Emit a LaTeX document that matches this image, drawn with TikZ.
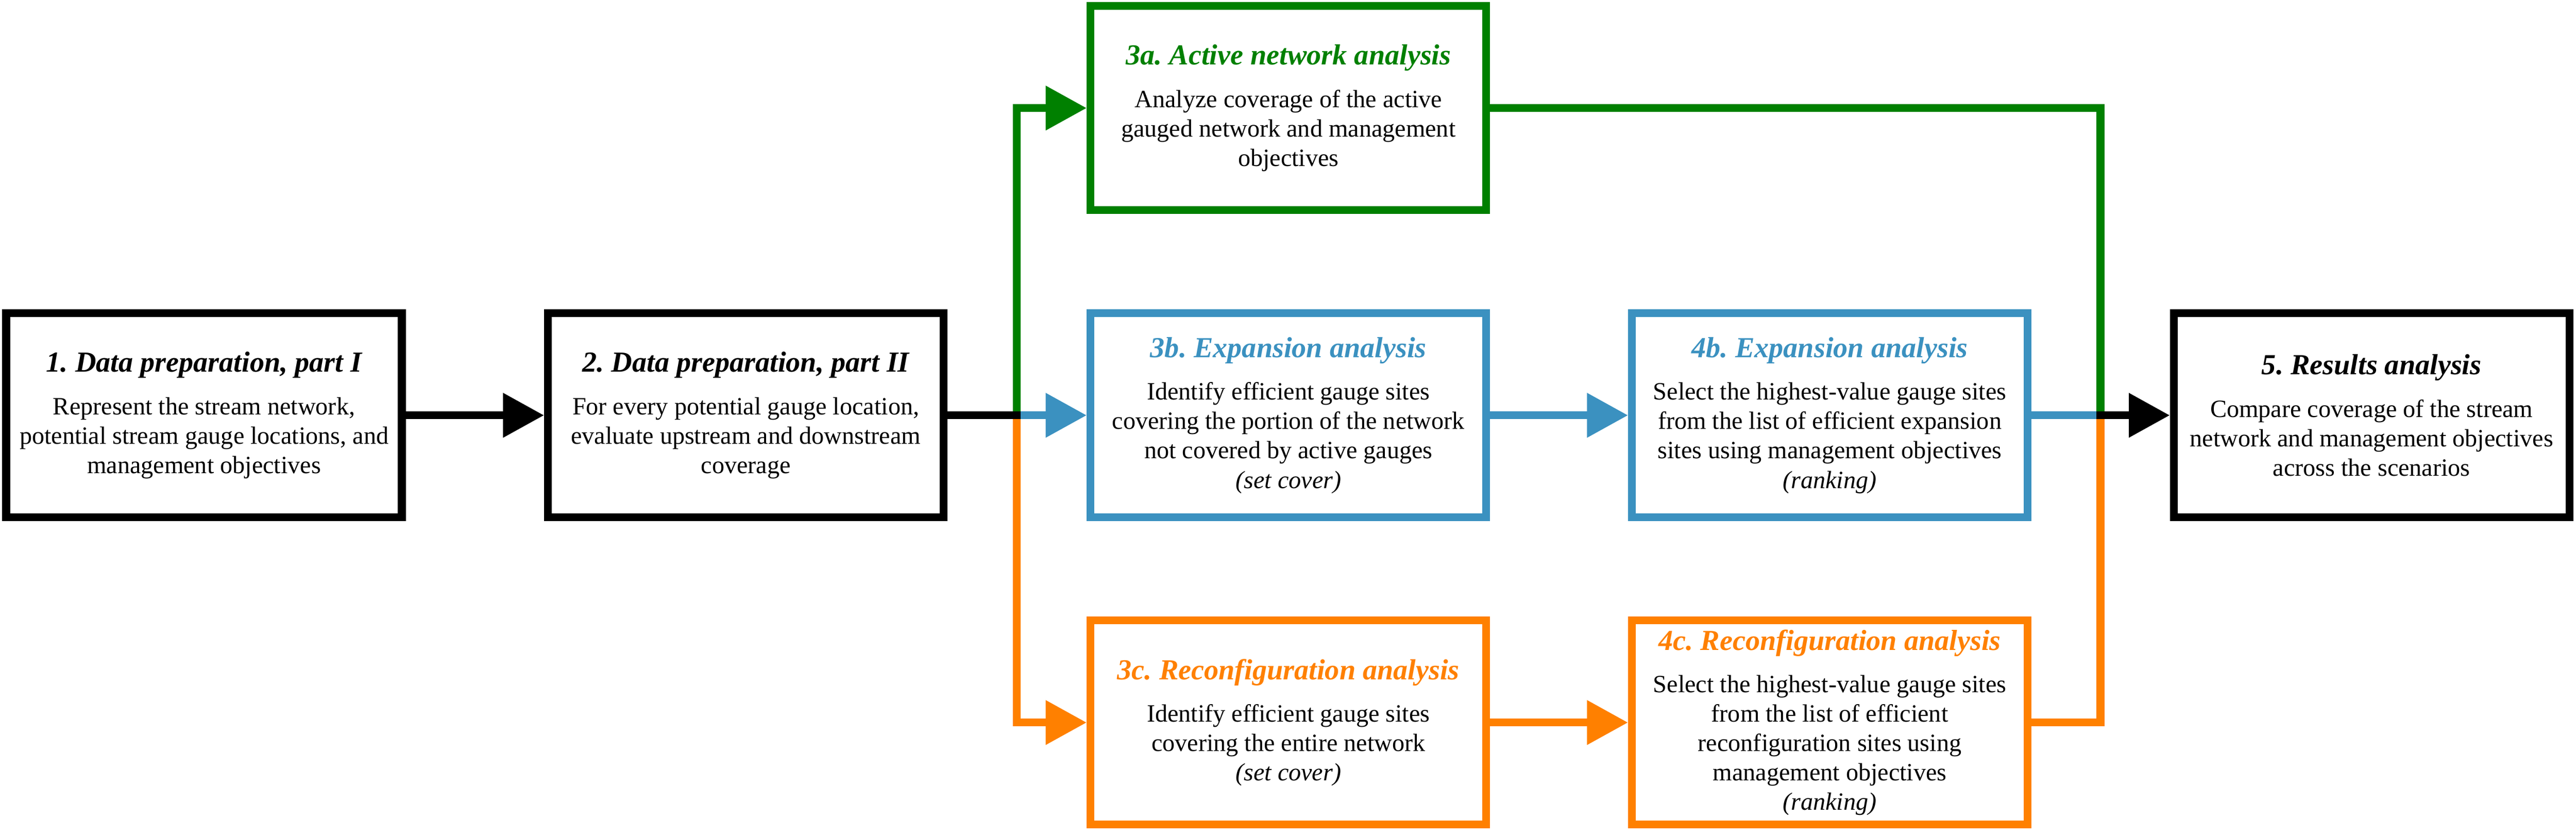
\documentclass[tikz,border=0pt]{standalone}
\usepackage{fontspec}
\setmainfont{Liberation Serif}
\usetikzlibrary{arrows.meta}
\frenchspacing

\definecolor{actgreen}{RGB}{0,128,0}
\definecolor{expblue}{RGB}{59,145,192}
\definecolor{recorange}{RGB}{255,128,0}

\newcommand{\steptitle}[2]{{\fontsize{14}{16}\selectfont\bfseries\itshape\color{#1}#2}}

\tikzset{
	stagebox/.style={draw=#1, line width=3.8pt, minimum width=191.2pt, minimum height=98.6pt,
		inner sep=0pt, align=center, font=\fontsize{12}{14.2}\selectfont},
	arrowline/.style={draw=#1, line width=3.8pt, -{Triangle[length=19.8pt,width=20.6pt]}},
	plainline/.style={draw=#1, line width=3.8pt}
}

\begin{document}
\begin{tikzpicture}[x=20pt,y=20pt]
	\useasboundingbox (0,0) rectangle (62.24,20.16);
	
	\node[stagebox=black] (prep1) at (4.93,10.13) {\steptitle{black}{1. Data preparation, part I}\\[6.4pt]
		Represent the stream network,\\ potential stream gauge locations, and\\ management objectives};
	\node[stagebox=black] (prep2) at (18.02,10.13) {\steptitle{black}{2. Data preparation, part II}\\[6.4pt]
		For every potential gauge location,\\ evaluate upstream and downstream\\ coverage};
	
	\node[stagebox=actgreen] (act) at (31.13,17.55) {\steptitle{actgreen}{3a. Active network analysis}\\[6.4pt]
		Analyze coverage of the active\\ gauged network and management\\ objectives};
	\node[stagebox=expblue] (exp) at (31.13,10.13) {\steptitle{expblue}{3b. Expansion analysis}\\[6.4pt]
		Identify efficient gauge sites\\ covering the portion of the network\\ not covered by active gauges\\ \textit{(set cover)}};
	\node[stagebox=recorange] (rec) at (31.13,2.71) {\steptitle{recorange}{3c. Reconfiguration analysis}\\[6.4pt]
		Identify efficient gauge sites\\ covering the entire network\\ \textit{(set cover)}};
	
	\node[stagebox=expblue] (exp4) at (44.21,10.13) {\steptitle{expblue}{4b. Expansion analysis}\\[6.4pt]
		Select the highest-value gauge sites\\ from the list of efficient expansion\\ sites using management objectives\\ \textit{(ranking)}};
	\node[stagebox=recorange] (rec4) at (44.21,2.71) {\steptitle{recorange}{4c. Reconfiguration analysis}\\[6.4pt]
		Select the highest-value gauge sites\\ from the list of efficient\\ reconfiguration sites using\\ management objectives\\ \textit{(ranking)}};
	
	\node[stagebox=black] (res) at (57.30,10.13) {\steptitle{black}{5. Results analysis}\\[6.4pt]
		Compare coverage of the stream\\ network and management objectives\\ across the scenarios};
	
	% branch points
	\coordinate (jl) at (24.57,10.13);
	\coordinate (jr) at (50.75,10.13);
	
	\draw[arrowline=actgreen] (jl) |- (act);
	\draw[arrowline=recorange] (jl) |- (rec);
	\draw[arrowline=expblue] (jl) -- (exp);
	\draw[arrowline=expblue] (exp) -- (exp4);
	\draw[arrowline=recorange] (rec) -- (rec4);
	\draw[plainline=actgreen] (act) -| (jr);
	\draw[plainline=recorange] (rec4) -| (jr);
	\draw[plainline=expblue] (exp4) -- (jr);
	
	\draw[arrowline=black] (prep1) -- (prep2);
	\draw[plainline=black, shorten >=-1.9pt] (prep2) -- (jl);
	\draw[arrowline=black, shorten <=-1.9pt] (jr) -- (res);
\end{tikzpicture}
\end{document}
